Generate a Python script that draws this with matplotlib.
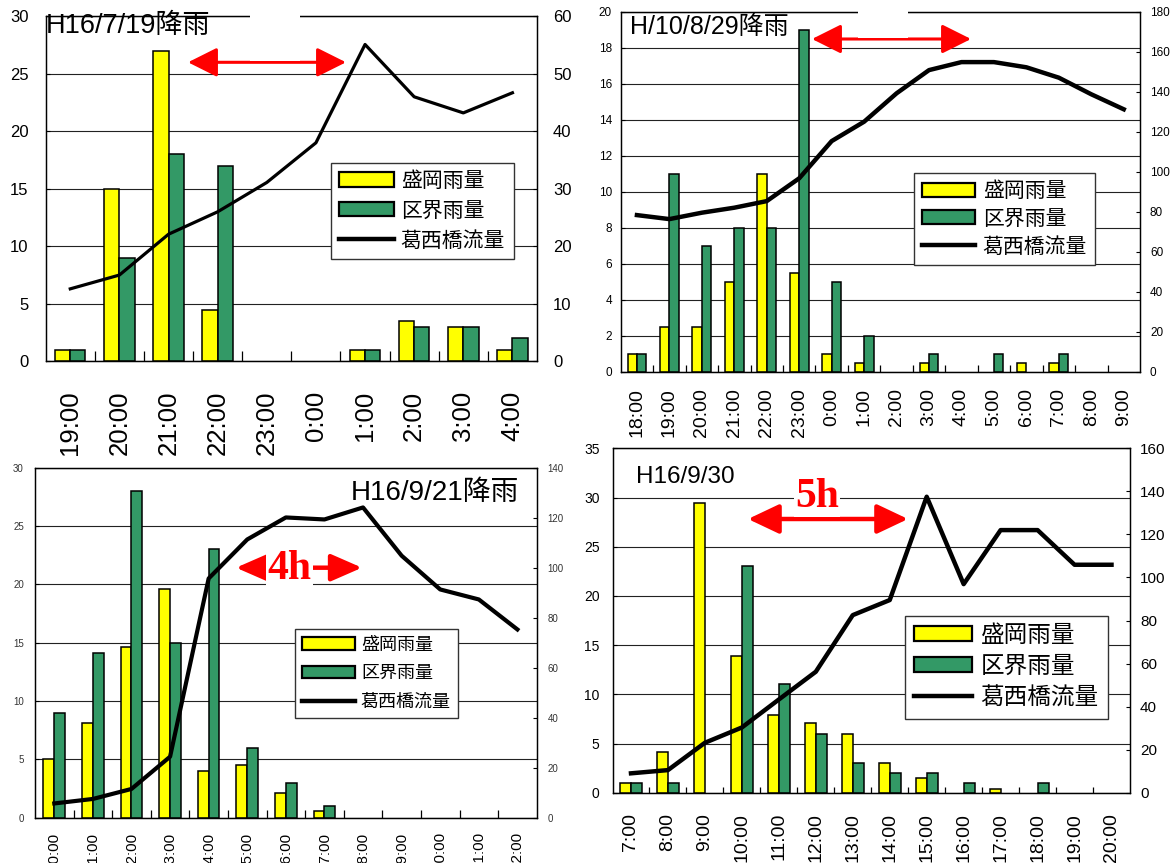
import matplotlib
matplotlib.use('Agg')
import matplotlib.pyplot as plt
from matplotlib.patches import Rectangle, Patch, FancyArrowPatch
from matplotlib.lines import Line2D
import numpy as np

plt.rcParams['font.family'] = ['Liberation Sans', 'Noto Sans CJK JP', 'DejaVu Sans']

W, H = 1173, 863
YEL = '#FFFF00'
GRN = '#339966'

# ---------------- data ----------------
series_labels = ['盛岡雨量', '区界雨量', '葛西橋流量']

tl_title = 'H16/7/19降雨'
tl_cats = ['19:00', '20:00', '21:00', '22:00', '23:00', '0:00', '1:00', '2:00', '3:00', '4:00']
tl_morioka = [1, 15, 27, 4.5, 0, 0, 1, 3.5, 3, 1]
tl_kukai = [1, 9, 18, 17, 0, 0, 1, 3, 3, 2]
tl_flow = [12.6, 15.0, 22.1, 26.0, 31.1, 38.0, 55.1, 46.0, 43.2, 46.7]

tr_title = 'H/10/8/29降雨'
tr_cats = ['18:00', '19:00', '20:00', '21:00', '22:00', '23:00', '0:00', '1:00',
           '2:00', '3:00', '4:00', '5:00', '6:00', '7:00', '8:00', '9:00']
tr_morioka = [1, 2.5, 2.5, 5, 11, 5.5, 1, 0.5, 0, 0.5, 0, 0, 0.5, 0.5, 0, 0]
tr_kukai = [1, 11, 7, 8, 8, 19, 5, 2, 0, 1, 0, 1, 0, 1, 0, 0]
tr_flow = [78.3, 76.3, 79.5, 82.0, 85.3, 96.7, 115.3, 125.0, 139.2, 150.8,
           154.8, 154.8, 152.2, 147.0, 138.7, 131.2]

bl_title = 'H16/9/21降雨'
bl_cats = ['10:00', '11:00', '12:00', '13:00', '14:00', '15:00', '16:00',
           '17:00', '18:00', '19:00', '20:00', '21:00', '22:00']
bl_morioka = [5, 8.1, 14.6, 19.6, 4, 4.5, 2.1, 0.6, 0, 0, 0, 0, 0]
bl_kukai = [9, 14.1, 28, 15, 23, 6, 3, 1, 0, 0, 0, 0, 0]
bl_flow = [5.7, 7.5, 11.5, 24.4, 95.7, 111.3, 120.1, 119.3, 124.1, 104.8, 91.3, 87.3, 75.3]
bl_lag = '4h'

br_title = 'H16/9/30'
br_cats = ['7:00', '8:00', '9:00', '10:00', '11:00', '12:00', '13:00', '14:00',
           '15:00', '16:00', '17:00', '18:00', '19:00', '20:00']
br_morioka = [1, 4.1, 29.4, 13.9, 7.9, 7.05, 6, 3, 1.5, 0, 0.4, 0, 0, 0]
br_kukai = [1, 1, 0, 23, 11, 6, 3, 2, 2, 1, 0, 1, 0, 0]
br_flow = [9, 10.5, 23.2, 30.3, 43.3, 56.2, 82.5, 89.5, 137.5, 96.9, 122, 122, 105.9, 105.9]
br_lag = '5h'

fig = plt.figure(figsize=(W / 100, H / 100), dpi=100)


def fx(x):
    return x / W


def fy(y):
    return 1 - y / H


def nonzero_bars(ax, x, vals, offset, width, color):
    vals = np.asarray(vals, dtype=float)
    keep = vals > 0
    ax.bar(x[keep] + offset, vals[keep], width, color=color, edgecolor='black',
           linewidth=1.1, zorder=3)


def panel(rect, cats, ym, yk, flow, lmax, lstep, rmax, rstep, barw,
          lfs, rfs, lpad, rpad, xfs, xpad, mtick, lw_line, leg, ycol='black'):
    l, t, r, b = rect
    ax = fig.add_axes([fx(l), fy(b), (r - l) / W, (b - t) / H])
    n = len(cats)
    x = np.arange(n)
    nonzero_bars(ax, x, ym, -barw / 2, barw, YEL)
    nonzero_bars(ax, x, yk, barw / 2, barw, GRN)
    ax.set_xlim(-0.5, n - 0.5)
    ax.set_ylim(0, lmax)
    ax.set_yticks(np.arange(0, lmax + 0.001, lstep))
    ax.yaxis.grid(True, color='#222222', linewidth=0.8)
    ax.set_axisbelow(True)
    ax.set_xticks(x)
    ax.set_xticklabels(cats, rotation=90)
    ax.tick_params(axis='x', which='major', length=0, pad=xpad, labelsize=xfs)
    ax.set_xticks(np.arange(0.5, n - 1, 1), minor=True)
    ax.tick_params(axis='x', which='minor', direction='in', length=mtick, width=0.9)
    ax.tick_params(axis='y', direction='in', length=3, labelsize=lfs, pad=lpad,
                   labelcolor=ycol)
    for s in ax.spines.values():
        s.set_linewidth(0.9)
    ax2 = ax.twinx()
    ax2.plot(x, flow, color='black', linewidth=lw_line, zorder=4)
    ax2.set_ylim(0, rmax)
    ax2.set_yticks(np.arange(0, rmax + 0.001, rstep))
    ax2.tick_params(axis='y', direction='in', length=3, labelsize=rfs, pad=rpad,
                    labelcolor=ycol)
    for s in ax2.spines.values():
        s.set_linewidth(0.9)
    handles = [Patch(facecolor=YEL, edgecolor='black', linewidth=1.6),
               Patch(facecolor=GRN, edgecolor='black', linewidth=1.6),
               Line2D([], [], color='black', linewidth=3.2)]
    lg = ax2.legend(handles, series_labels, loc='upper left',
                    bbox_to_anchor=(fx(leg['x']), fy(leg['y'])),
                    bbox_transform=fig.transFigure, borderaxespad=0,
                    fancybox=False, framealpha=1, edgecolor='#333333',
                    fontsize=leg['fs'], handlelength=leg['hl'], handleheight=leg['hh'],
                    handletextpad=0.35, labelspacing=leg['ls'], borderpad=0.4)
    lg.get_frame().set_linewidth(1.0)
    return ax, ax2


def arrow(x0, x1, y, hl, hw, lw):
    a = FancyArrowPatch((fx(x0), fy(y)), (fx(x1), fy(y)), transform=fig.transFigure,
                        arrowstyle=f'<|-|>,head_length={hl},head_width={hw}',
                        mutation_scale=1, color='#FF0000', linewidth=lw,
                        shrinkA=0, shrinkB=0, zorder=2)
    fig.add_artist(a)


# Top-left
panel((45.7, 16.3, 537, 361.3), tl_cats, tl_morioka, tl_kukai, tl_flow,
      30, 5, 60, 10, 0.31, 12, 12, 12.5, 11.5, 18.5, 21, 7, 2.3,
      dict(x=331, y=163, fs=15, hl=2.6, hh=0.67, ls=0.5))
# Top-right
panel((620.7, 11.7, 1140, 371.7), tr_cats, tr_morioka, tr_kukai, tr_flow,
      20, 2, 180, 20, 0.29, 8.5, 8.5, 6.3, 7.2, 14, 11.7, 5, 3.2,
      dict(x=914, y=173, fs=15, hl=2.55, hh=0.65, ls=0.4))
# Bottom-left
panel((35, 467.7, 536.7, 817.7), bl_cats, bl_morioka, bl_kukai, bl_flow,
      30, 5, 140, 20, 0.28, 7, 7, 8, 8, 11, 10, 5.5, 3.0,
      dict(x=295, y=629.3, fs=13, hl=2.9, hh=0.72, ls=0.65), ycol='#333333')
# Bottom-right
panel((612.5, 448.3, 1130, 792.7), br_cats, br_morioka, br_kukai, br_flow,
      35, 5, 160, 20, 0.30, 10, 11, 9.4, 7.2, 14, 14.6, 4.3, 3.2,
      dict(x=905, y=615.7, fs=17, hl=2.45, hh=0.6, ls=0.38))

# arrows
arrow(188, 346, 62.3, 18, 9, 2.2)
arrow(812, 971, 39, 18, 9, 2.2)
arrow(236, 362, 567.7, 19, 8.3, 3.2)
arrow(748, 908, 519, 19, 9, 3.2)

# white gaps in top frames
for (x0, x1, y1) in [(250, 300, 61), (858, 908, 38)]:
    fig.add_artist(Rectangle((fx(x0), fy(y1)), (x1 - x0) / W, y1 / H,
                             transform=fig.transFigure, facecolor='white',
                             edgecolor='none', zorder=2.5))

# titles
fig.text(fx(45.7), fy(32.7), tl_title, fontsize=19.5, va='baseline', ha='left', zorder=3)
fig.text(fx(630), fy(34.3), tr_title, fontsize=18, va='baseline', ha='left', zorder=3)
fig.text(fx(519), fy(500), bl_title, fontsize=20, va='baseline', ha='right', zorder=3)
fig.text(fx(636.5), fy(483), br_title, fontsize=17.5, va='baseline', ha='left', zorder=3)

# lag labels
for (txt, xc, yc) in [(bl_lag, 289.5, 569), (br_lag, 817, 497)]:
    fig.text(fx(xc), fy(yc), txt, fontsize=30, fontweight='bold', color='#FF0000',
             family=['Liberation Serif', 'DejaVu Serif'], ha='center', va='center',
             zorder=3, bbox=dict(facecolor='white', edgecolor='none', pad=1))

fig.savefig('out.png', dpi=100)
